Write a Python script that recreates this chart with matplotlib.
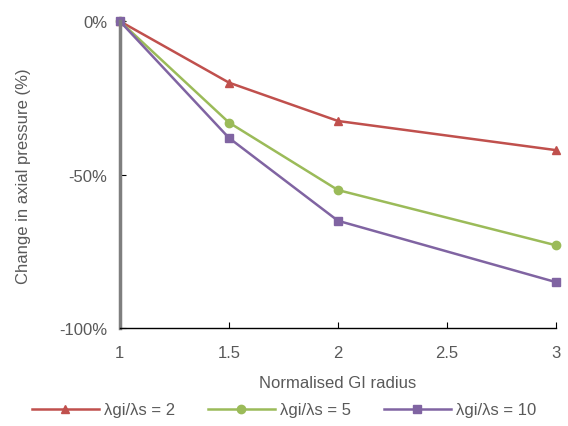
import matplotlib.pyplot as plt
from matplotlib.ticker import FuncFormatter

plt.rcParams['font.family'] = ['Liberation Sans', 'DejaVu Sans']

# data
radius = [1, 1.5, 2, 3]
ratio_2 = [0, -20, -32.5, -42]
ratio_5 = [0, -33, -55, -73]
ratio_10 = [0, -38, -65, -85]
labels = ['λgi/λs = 2', 'λgi/λs = 5', 'λgi/λs = 10']

text_col = '#595959'
fs = 12

fig = plt.figure(figsize=(5.68, 4.27), dpi=100)
ax = fig.add_axes([0.211, 0.229, 0.768, 0.719])

ax.plot(radius, ratio_2, color='#C0504D', marker='^', markersize=6, lw=1.8, label=labels[0])
ax.plot(radius, ratio_5, color='#9BBB59', marker='o', markersize=6, lw=1.8, label=labels[1])
ax.plot(radius, ratio_10, color='#8064A2', marker='s', markersize=6, lw=1.8, label=labels[2])

ax.set_xlim(1, 3)
ax.set_ylim(-100, 0)
ax.set_xticks([1, 1.5, 2, 2.5, 3])
ax.set_xticklabels(['1', '1.5', '2', '2.5', '3'])
ax.set_yticks([0, -50, -100])
ax.yaxis.set_major_formatter(FuncFormatter(lambda v, p: f'{v:.0f}%'))

for s in ['top', 'right']:
    ax.spines[s].set_visible(False)
ax.spines['left'].set_color('#7f7f7f')
ax.spines['left'].set_linewidth(2.5)
ax.spines['bottom'].set_color('black')
ax.spines['bottom'].set_linewidth(1)
ax.tick_params(axis='both', direction='in', length=4, colors=text_col, labelsize=fs)
ax.tick_params(axis='x', color='black', pad=12)
ax.tick_params(axis='y', color='black', pad=9)
for c in ax.get_children():
    if hasattr(c, 'set_clip_on'):
        c.set_clip_on(False)

ax.set_xlabel('Normalised GI radius', color=text_col, fontsize=fs, labelpad=11)
ax.set_ylabel('Change in axial pressure (%)', color=text_col, fontsize=fs, labelpad=20)

fig.legend(loc='lower center', bbox_to_anchor=(0.5, -0.015), ncol=3, frameon=False,
           fontsize=fs, labelcolor=text_col, handlelength=4.0, columnspacing=2.0,
           handletextpad=0.3)

fig.savefig('out.png', dpi=100)
